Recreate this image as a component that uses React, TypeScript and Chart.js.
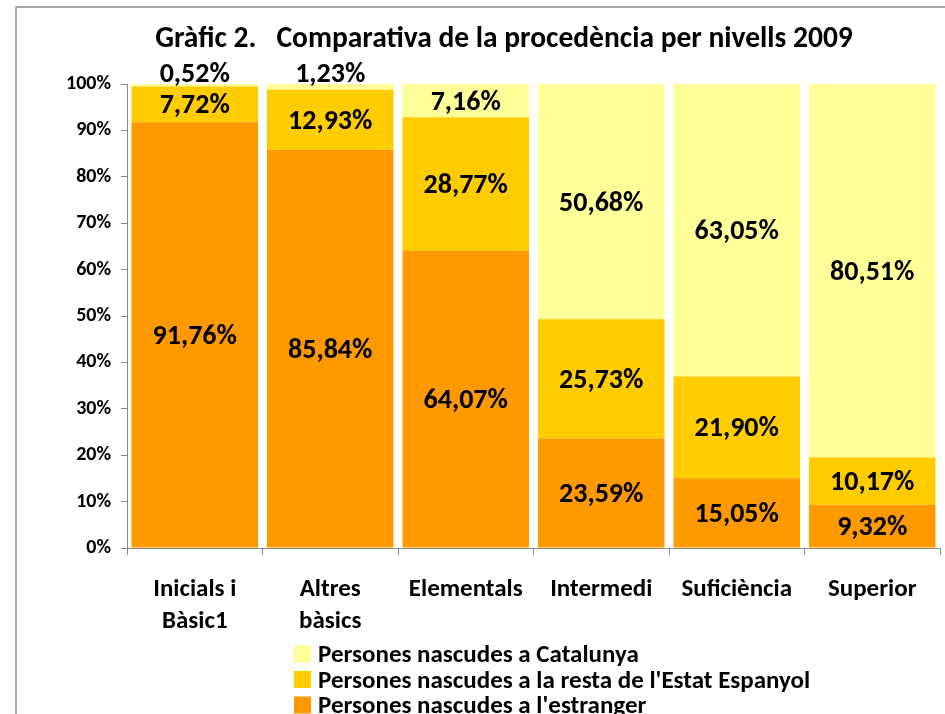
import React, { useEffect, useRef } from "react";
import { Chart, registerables } from "chart.js";

Chart.register(...registerables);

const titleText = "Gràfic 2.   Comparativa de la procedència per nivells 2009";
const categories: (string | string[])[] = [
  ["Inicials i", "Bàsic1"],
  ["Altres", "bàsics"],
  "Elementals",
  "Intermedi",
  "Suficiència",
  "Superior",
];
const estranger = [91.76, 85.84, 64.07, 23.59, 15.05, 9.32];
const restaEstat = [7.72, 12.93, 28.77, 25.73, 21.9, 10.17];
const catalunya = [0.52, 1.23, 7.16, 50.68, 63.05, 80.51];
const seriesNames = [
  "Persones nascudes a l'estranger",
  "Persones nascudes a la resta de l'Estat Espanyol",
  "Persones nascudes a Catalunya",
];
const seriesColors = ["#FF9900", "#FFCC00", "#FFFF99"];

const FONT = "Carlito, Calibri, 'Liberation Sans Narrow', sans-serif";
const AXIS_COLOR = "#888888";

const fmt = (v: number) => v.toFixed(2).replace(".", ",") + "%";

const framePlugin = {
  id: "frame",
  beforeDraw(chart: any) {
    const ctx = chart.ctx;
    ctx.save();
    ctx.fillStyle = "#ffffff";
    ctx.fillRect(0, 0, chart.width, chart.height);
    ctx.strokeStyle = "#8c8c8c";
    ctx.lineWidth = 1.5;
    ctx.strokeRect(16, 7, chart.width + 20, chart.height + 20);
    ctx.restore();
  },
};

const titlePlugin = {
  id: "customTitle",
  afterDraw(chart: any) {
    const ctx = chart.ctx;
    ctx.save();
    ctx.font = `bold 29.5px ${FONT}`;
    ctx.fillStyle = "#000";
    ctx.textAlign = "center";
    ctx.textBaseline = "middle";
    ctx.fillText(titleText, 504, 40);
    ctx.restore();
  },
};

const labelPlugin = {
  id: "segLabels",
  afterDatasetsDraw(chart: any) {
    const ctx = chart.ctx;
    const top = chart.chartArea.top;
    ctx.save();
    ctx.font = `bold 28px ${FONT}`;
    ctx.fillStyle = "#000";
    ctx.textAlign = "center";
    ctx.textBaseline = "middle";
    chart.data.datasets.forEach((ds: any, i: number) => {
      const meta = chart.getDatasetMeta(i);
      meta.data.forEach((bar: any, j: number) => {
        const v = ds.data[j] as number;
        const p = bar.getProps(["x", "y", "base"], true);
        let ty = (p.y + p.base) / 2 + 2;
        if (v < 3) ty = top - 9;
        ctx.fillText(fmt(v), p.x, ty);
      });
    });
    ctx.restore();
  },
};

const legendPlugin = {
  id: "customLegend",
  afterDraw(chart: any) {
    const ctx = chart.ctx;
    const ds = chart.data.datasets.slice().reverse();
    ctx.save();
    ctx.font = `bold 25px ${FONT}`;
    ctx.textAlign = "left";
    ctx.textBaseline = "middle";
    const x0 = 294;
    const rowH = 25.5;
    const y0 = chart.height - 60;
    ds.forEach((d: any, k: number) => {
      const cy = y0 + k * rowH;
      ctx.fillStyle = d.backgroundColor;
      ctx.fillRect(x0, cy - 8.5, 17, 17);
      ctx.fillStyle = "#000";
      ctx.fillText(d.label, x0 + 24, cy + 2);
    });
    ctx.restore();
  },
};

export default function App() {
  const ref = useRef<HTMLCanvasElement | null>(null);
  useEffect(() => {
    if (!ref.current) return;
    const padLeft = 20;
    const chart = new Chart(ref.current, {
      type: "bar",
      data: {
        labels: categories,
        datasets: [estranger, restaEstat, catalunya].map((d, i) => ({
          label: seriesNames[i],
          data: d,
          backgroundColor: seriesColors[i],
          borderWidth: 0,
          barPercentage: 0.934,
          categoryPercentage: 1.0,
        })),
      },
      options: {
        animation: false,
        responsive: false,
        layout: { padding: { left: padLeft, right: 5, top: 84, bottom: 66 } },
        plugins: {
          legend: { display: false },
          tooltip: { enabled: false },
          title: { display: false },
        },
        scales: {
          x: {
            stacked: true,
            afterFit(scale: any) {
              scale.height = 100;
            },
            grid: {
              display: true,
              drawOnChartArea: false,
              drawTicks: true,
              tickLength: 7,
              color: AXIS_COLOR,
              offset: true,
            },
            border: { display: true, color: AXIS_COLOR, width: 1 },
            ticks: {
              color: "#000",
              maxRotation: 0,
              autoSkip: false,
              padding: 19,
              font: { family: FONT, size: 25, weight: "bold", lineHeight: "32px" },
            },
          },
          y: {
            stacked: true,
            min: 0,
            max: 100,
            afterFit(scale: any) {
              scale.width = 127 - padLeft;
            },
            grid: {
              display: true,
              drawOnChartArea: false,
              drawTicks: true,
              tickLength: 6,
              color: AXIS_COLOR,
            },
            border: { display: true, color: AXIS_COLOR, width: 1 },
            ticks: {
              stepSize: 10,
              color: "#000",
              padding: 10,
              font: { family: FONT, size: 20, weight: "bold" },
              callback: (v: any) => v + "%",
            },
          },
        },
      },
      plugins: [framePlugin, titlePlugin, labelPlugin, legendPlugin],
    } as any);
    return () => chart.destroy();
  }, []);
  return (
    <div style={{ position: "absolute", left: 0, top: 0, width: 945, height: 714, background: "#fff" }}>
      <canvas ref={ref} width={945} height={714} style={{ display: "block" }} />
    </div>
  );
}
